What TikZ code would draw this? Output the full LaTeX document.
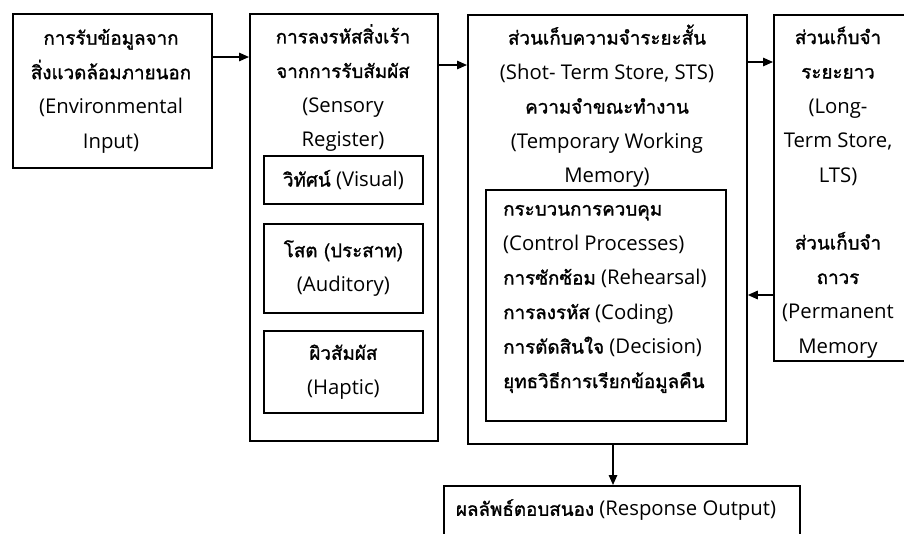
\documentclass[tikz,border=0pt]{standalone}
\usepackage{fontspec}
\setmainfont{Open Sans}
\newfontfamily\thaifont[Script=Thai,FakeBold=1.4]{Loma}
\newcommand\T[1]{{\thaifont\fontsize{18.8}{34.5}\selectfont #1}}
\usetikzlibrary{arrows.meta}
\begin{document}
\begin{tikzpicture}[x=1pt,y=-1pt,
  box/.style={draw,line width=1.8pt,inner sep=0pt,anchor=north west},
  txt/.style={inner sep=0pt,align=center,font=\fontsize{20.3}{34.5}\selectfont},
  ltxt/.style={inner sep=0pt,align=left,anchor=west,font=\fontsize{20.3}{34.5}\selectfont},
  arr/.style={line width=1.5pt,-{Triangle[length=10pt,width=8.5pt]}}]
\useasboundingbox (0,0) rectangle (904,533);
% boxes
\node[box,minimum width=199pt,minimum height=154pt] (b1) at (12,13) {};
\node[box,minimum width=188pt,minimum height=427pt] (b2) at (249,13) {};
\node[box,minimum width=279pt,minimum height=429pt] (b3) at (467,14) {};
\node[box,minimum width=133pt,minimum height=346pt] (b4) at (773,14) {};
\node[box,minimum width=356pt,minimum height=60pt] (out) at (443,485) {};
% inner boxes of sensory register
\node[box,minimum width=159pt,minimum height=48pt,txt] (vis) at (263,155) {\T{วิทัศน์} (Visual)};
\node[box,minimum width=159pt,minimum height=89pt,txt] (aud) at (263,223) {\T{โสต (ประสาท)}\\(Auditory)};
\node[box,minimum width=159pt,minimum height=82pt,txt] (hap) at (263,330) {\T{ผิวสัมผัส}\\(Haptic)};
% inner box of STS
\node[box,minimum width=240pt,minimum height=231pt] (ctl) at (485,189) {};
% texts
\node[txt] (t1) at (111,91) {\T{การรับข้อมูลจาก}\\\T{สิ่งแวดล้อมภายนอก}\\(Environmental\\Input)};
\node[txt] (t2) at (343,88) {\T{การลงรหัสสิ่งเร้า}\\\T{จากการรับสัมผัส}\\(Sensory\\Register)};
\node[txt] (t3) at (607,106) {\T{ส่วนเก็บความจำระยะสั้น}\\(Shot- Term Store, STS)\\\T{ความจำขณะทำงาน}\\(Temporary Working\\Memory)};
\node[ltxt] (t4) at (503,299) {\T{กระบวนการควบคุม}\\(Control Processes)\\\T{การซักซ้อม} (Rehearsal)\\\T{การลงรหัส} (Coding)\\\T{การตัดสินใจ} (Decision)\\\T{ยุทธวิธีการเรียกข้อมูลคืน}};
\node[txt] (t5) at (838,106) {\T{ส่วนเก็บจำ}\\\T{ระยะยาว}\\(Long-\\Term Store,\\LTS)};
\node[txt] (t6) at (838,295) {\T{ส่วนเก็บจำ}\\\T{ถาวร}\\(Permanent\\Memory};
\node[txt] (t7) at (616,510) {\T{ผลลัพธ์ตอบสนอง} (Response Output)};
% connectors
\draw[arr] (b1.east |- 0,57) -- (b2.west |- 0,57);
\draw[arr] (b2.east |- 0,65) -- (b3.west |- 0,65);
\draw[arr] (b3.east |- 0,62) -- (b4.west |- 0,62);
\draw[arr] (b4.west |- 0,295) -- (b3.east |- 0,295);
\draw[arr] (b3.south -| 613,0) -- (out.north -| 613,0);
\end{tikzpicture}
\end{document}
